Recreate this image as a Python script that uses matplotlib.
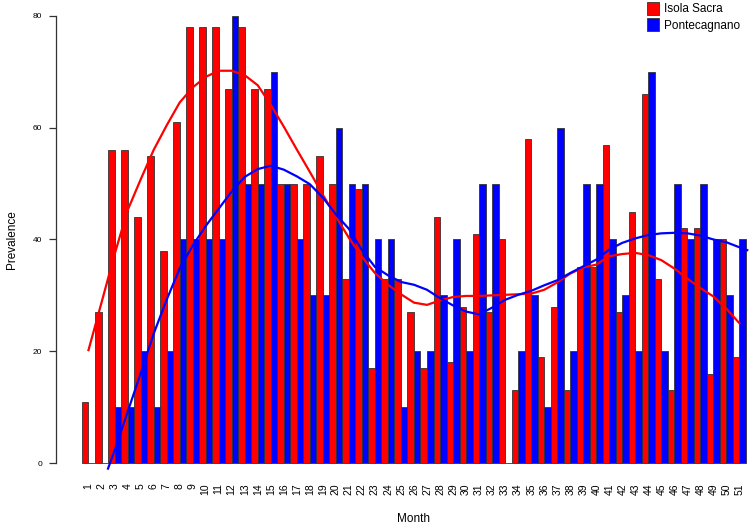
import numpy as np
import matplotlib
matplotlib.use("Agg")
import matplotlib.pyplot as plt
from matplotlib.patches import Patch

plt.rcParams['font.family'] = ['Liberation Sans', 'DejaVu Sans']

# Datos
months = list(range(1, 52))
isola_sacra = [11, 27, 56, 56, 44, 55, 38, 61, 78, 78, 78, 67, 78, 67, 67, 50, 50,
               50, 55, 50, 33, 49, 17, 33, 33, 27, 17, 44, 18, 28, 41, 27, 40, 13,
               58, 19, 28, 13, 35, 35, 57, 27, 45, 66, 33, 13, 42, 42, 16, 40, 19]
pontecagnano = [0, 0, 10, 10, 20, 10, 20, 40, 40, 40, 40, 80, 50, 50, 70, 50, 40,
                30, 30, 60, 50, 50, 40, 40, 10, 20, 20, 30, 40, 20, 50, 50, 0, 20,
                30, 10, 60, 20, 50, 50, 40, 30, 20, 70, 20, 50, 40, 50, 40, 30, 40]

red_curve_month = list(range(1, 52))
red_curve = [20.2, 28.7, 37.3, 45.2, 50.7, 56.0, 60.4, 64.5, 67.2, 69.1, 70.2, 70.2,
             69.4, 67.6, 64.1, 60.2, 56.1, 52.1, 48.0, 44.1, 40.3, 36.9, 34.0, 31.9,
             30.2, 28.7, 28.3, 29.1, 29.7, 29.9, 29.9, 30.0, 30.1, 30.2, 30.3, 31.0,
             32.3, 33.9, 35.0, 35.5, 37.0, 37.4, 37.6, 37.2, 36.3, 34.8, 33.0, 31.3,
             29.8, 27.6, 25.0]
blue_curve_month = [2.5] + list(range(3, 52)) + [51.6]
blue_curve = [-1.0, 2.2, 9.1, 16.0, 23.1, 29.2, 34.8, 38.9, 42.4, 45.5, 48.6, 51.2,
              52.6, 53.2, 52.5, 51.3, 49.9, 47.5, 44.5, 41.9, 38.1, 35.1, 33.6, 32.4,
              31.9, 31.0, 29.5, 28.2, 27.1, 26.6, 27.8, 29.2, 30.1, 30.8, 31.8, 32.7,
              34.0, 35.2, 36.4, 38.2, 39.4, 40.2, 40.8, 41.1, 41.2, 41.1, 40.7, 40.0,
              39.5, 38.6, 38.1]

W, H = 751, 525
fig = plt.figure(figsize=(W / 100, H / 100), dpi=100)
ax = fig.add_axes([56 / W, 1 - 481 / H, (W - 56) / W, 481 / H])

m = np.array(months)
x_red = 2 * (m - 1)
x_blue = x_red + 1
ax.bar(x_red, isola_sacra, width=1, align='edge', color='#ff0000',
       edgecolor='#333333', linewidth=0.6, label='Isola Sacra')
ax.bar(x_blue, pontecagnano, width=1, align='edge', color='#0000ff',
       edgecolor='#333333', linewidth=0.6, label='Pontecagnano')

ax.plot(2 * np.array(red_curve_month) - 1, red_curve, color='#ff0000', lw=1.6)
ax.plot(2 * np.array(blue_curve_month) - 1, blue_curve, color='#0000ff', lw=1.6)

# Ejes estilo R
ax.set_xlim(-3.99, 102.77)
ax.set_ylim(-3.22, 82.86)
for s in ['top', 'right', 'bottom']:
    ax.spines[s].set_visible(False)
ax.spines['left'].set_bounds(0, 80)
ax.spines['left'].set_color('#333333')
ax.spines['left'].set_linewidth(0.9)
ax.set_yticks([0, 20, 40, 60, 80])
ax.tick_params(axis='y', length=5, width=0.9, color='#333333', labelsize=6, pad=5)
ax.set_xticks(2 * m - 1)
ax.set_xticklabels([str(v) for v in months], rotation=90, fontsize=7.5)
ax.tick_params(axis='x', length=0, pad=1.5)

fig.text(414 / W, 1 - 519 / H, 'Month', ha='center', va='center', fontsize=8.5)
fig.text(12 / W, 1 - 240 / H, 'Prevalence', ha='center', va='center',
         rotation=90, fontsize=8.5)

handles = [Patch(facecolor='#ff0000', edgecolor='#333333', linewidth=0.6),
           Patch(facecolor='#0000ff', edgecolor='#333333', linewidth=0.6)]
fig.legend(handles, ['Isola Sacra', 'Pontecagnano'], loc='upper left',
           bbox_to_anchor=(647 / W, 1 - 2 / H), frameon=False, fontsize=8.5,
           handlelength=1.0, handleheight=1.3, handletextpad=0.45,
           labelspacing=0.25, borderpad=0, borderaxespad=0)

fig.savefig('out.png', dpi=100)
